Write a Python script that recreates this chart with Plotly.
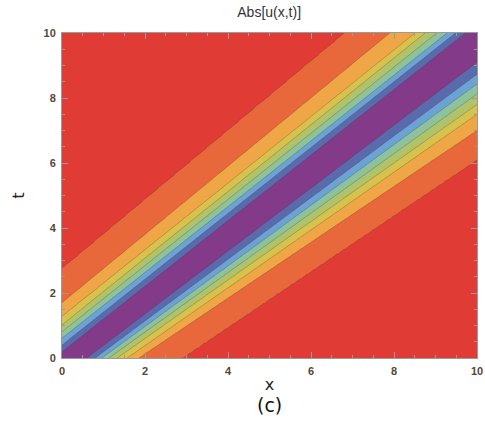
import numpy as np
import plotly.graph_objects as go

# Contour levels (boundaries between colour bands) and peak value
levels = [0.1, 0.2, 0.3, 0.4, 0.5, 0.6, 0.7, 0.8]
peak = 0.9

# Boundary crossings (one entry per level, outer -> inner)
# upper-left side of the ridge: t where it meets x=0, x where it meets t=10
upper_t_at_x0 = [2.75, 1.70, 1.28, 1.02, 0.81, 0.61, 0.40, 0.19]
upper_x_at_t10 = [6.81, 7.90, 8.51, 8.75, 9.03, 9.28, 9.48, 9.72]
# lower-right side of the ridge: x where it meets t=0, t where it meets x=10
lower_x_at_t0 = [2.90, 1.85, 1.57, 1.33, 1.13, 0.96, 0.80, 0.60]
lower_t_at_x10 = [6.10, 7.00, 7.50, 7.80, 8.12, 8.43, 8.73, 9.10]

band_colors = ["#E13B36", "#E8683C", "#EFA646", "#D6C24C", "#AEC36A",
               "#8CC29C", "#6AA3D6", "#5A6BAD", "#833B89"]

xs = np.linspace(0, 10, 401)
ts = np.linspace(0, 10, 401)

ut0 = np.array(upper_t_at_x0); ux10 = np.array(upper_x_at_t10)
lx0 = np.array(lower_x_at_t0); lt10 = np.array(lower_t_at_x10)

z = np.zeros((len(ts), len(xs)))
for i, t in enumerate(ts):
    up = ux10 * (t - ut0) / (10 - ut0)
    lo = lx0 + (10 - lx0) * t / lt10
    centre = 0.5 * (up[-1] + lo[-1])
    px = np.concatenate([[-1e3], up, [centre], lo[::-1], [1e3]])
    pv = np.concatenate([[0.0], levels, [peak], levels[::-1], [0.0]])
    z[i] = np.interp(xs, px, pv)

n = len(band_colors)
colorscale = [[k / (n - 1), c] for k, c in enumerate(band_colors)]

fig = go.Figure(go.Contour(
    x=xs, y=ts, z=z,
    contours=dict(start=levels[0], end=levels[-1], size=0.1, coloring="fill"),
    colorscale=colorscale, showscale=False,
    line=dict(color="rgba(90,40,30,0.35)", width=0.8, smoothing=0),
    hoverinfo="skip",
))

tickfont = dict(family="Liberation Sans, Arial Black, Arial", size=11,
                color="#56463a", weight="bold")
axis_common = dict(
    range=[0, 10], tickvals=[0, 2, 4, 6, 8, 10], ticks="inside", ticklen=6,
    tickcolor="#9a9a9a", tickwidth=1, showline=True, linecolor="#9a9a9a",
    linewidth=1, mirror="allticks", showgrid=False, zeroline=False,
    tickfont=tickfont, ticklabelstandoff=3, automargin=False,
    minor=dict(dtick=0.5, ticks="inside", ticklen=3, tickcolor="#9a9a9a"),
)

fig.update_layout(
    width=485, height=421,
    margin=dict(l=62, r=8, t=33, b=63, autoexpand=False),
    paper_bgcolor="white", plot_bgcolor="white",
    title=dict(text="Abs[u(x,t)]", x=0.555, xanchor="center", y=0.972,
               yanchor="middle",
               font=dict(family="Liberation Sans, Arial", size=14, color="#333333")),
    xaxis=dict(**axis_common,
               title=dict(text="x", standoff=2,
                          font=dict(family="DejaVu Sans", size=16, color="#222222"))),
    yaxis=dict(**axis_common,
               title=dict(text="t", standoff=14,
                          font=dict(family="DejaVu Sans", size=16, color="#222222"))),
    font=dict(family="Liberation Sans, Arial"),
    annotations=[dict(text="(c)", xref="paper", yref="paper", x=0.5, y=-0.145,
                      xanchor="center", yanchor="middle", showarrow=False,
                      font=dict(family="DejaVu Sans", size=19, color="#111111"))],
)
fig.write_html("out.html")
